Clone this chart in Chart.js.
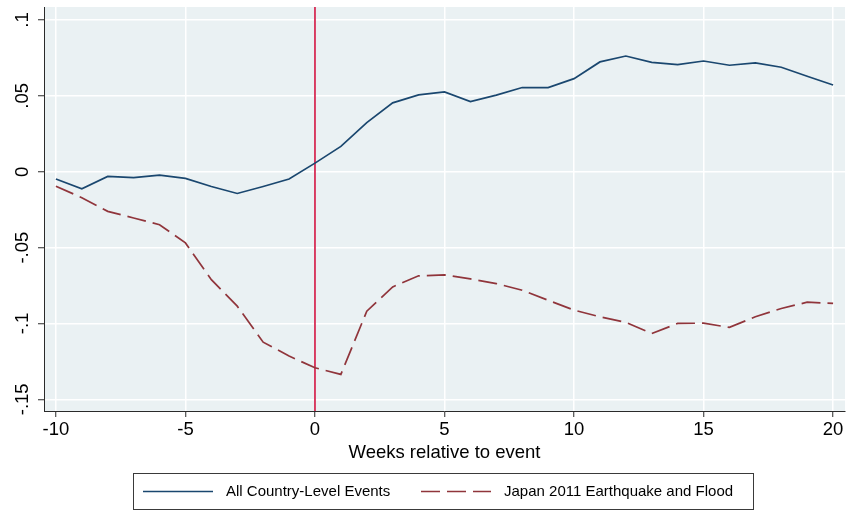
<!DOCTYPE html>
<html>
<head>
<meta charset="utf-8">
<script src="https://cdn.jsdelivr.net/npm/chart.js@4/dist/chart.umd.min.js"></script>
<style>
  html, body { margin: 0; padding: 0; background: #ffffff; }
  #wrap { width: 846px; height: 511px; position: relative; }
</style>
</head>
<body>
<div id="wrap"><canvas id="c" width="846" height="511"></canvas></div>
<script>
// Weeks relative to the event
const weeks = [-10, -9, -8, -7, -6, -5, -4, -3, -2, -1, 0, 1, 2, 3, 4, 5, 6, 7, 8, 9, 10,
               11, 12, 13, 14, 15, 16, 17, 18, 19, 20];

// Average effect across all country-level events
const allEvents = [-0.0048, -0.0112, -0.0031, -0.0039, -0.0022, -0.0044, -0.0097, -0.0143, -0.0097, -0.0048,
                   0.0057, 0.0167, 0.0324, 0.0454, 0.0507, 0.0526, 0.0463, 0.0505, 0.0555, 0.0555,
                   0.0614, 0.0724, 0.0763, 0.0721, 0.0706, 0.0730, 0.0702, 0.0717, 0.0689, 0.0630, 0.0572];

// Japan 2011 earthquake and flood
const japan2011 = [-0.0095, -0.0171, -0.0261, -0.0305, -0.0349, -0.0469, -0.0711, -0.0886, -0.1123, -0.1215,
                   -0.1292, -0.1336, -0.0919, -0.0759, -0.0686, -0.0680, -0.0706, -0.0737, -0.0781, -0.0847,
                   -0.0912, -0.0956, -0.0993, -0.1066, -0.1000, -0.0998, -0.1026, -0.0956, -0.0901, -0.0860, -0.0868];

const seriesNames = ["All Country-Level Events", "Japan 2011 Earthquake and Flood"];

// Axis ticks
const xTickValues = [-10, -5, 0, 5, 10, 15, 20];
const yTickValues = [-0.15, -0.1, -0.05, 0, 0.05, 0.1];
const yTickLabels = ["-.15", "-.1", "-.05", "0", ".05", ".1"];
const xTitle = "Weeks relative to event";
const eventWeek = 0;

const FONT = "'Liberation Sans', Arial, Helvetica, sans-serif";
const AXIS_FONT_SIZE = 18.5;
const LEGEND_FONT_SIZE = 15;
const PLOT_BG = '#EAF1F3';
const AXIS_COLOR = '#2a2a2a';
const BLUE = '#1A476F';
const MAROON = '#90353B';
const EVENT_RED = '#D0123F';
const DASH = [19, 7];

function toPoints(xs, ys) { return xs.map((x, i) => ({ x: x, y: ys[i] })); }

// Plot region background
const plotBackground = {
  id: 'plotBackground',
  beforeDraw(chart) {
    const { ctx, chartArea: a } = chart;
    ctx.save();
    ctx.fillStyle = PLOT_BG;
    ctx.fillRect(a.left, a.top, a.right - a.left, a.bottom - a.top);
    ctx.restore();
  }
};

// Vertical reference line at the event week
const eventLine = {
  id: 'eventLine',
  beforeDatasetsDraw(chart) {
    const { ctx, chartArea: a, scales } = chart;
    const px = scales.x.getPixelForValue(eventWeek);
    ctx.save();
    ctx.strokeStyle = EVENT_RED;
    ctx.lineWidth = 1.6;
    ctx.beginPath();
    ctx.moveTo(px, a.top);
    ctx.lineTo(px, a.bottom);
    ctx.stroke();
    ctx.restore();
  }
};

// Y tick labels, rotated to read upward
const yLabels = {
  id: 'yLabels',
  afterDraw(chart) {
    const { ctx, scales } = chart;
    const ys = scales.y;
    ctx.save();
    ctx.fillStyle = '#000';
    ctx.font = AXIS_FONT_SIZE + 'px ' + FONT;
    ctx.textAlign = 'center';
    ctx.textBaseline = 'alphabetic';
    yTickValues.forEach((v, i) => {
      const py = ys.getPixelForValue(v);
      ctx.save();
      ctx.translate(ys.right - 16, py);
      ctx.rotate(-Math.PI / 2);
      ctx.fillText(yTickLabels[i], 0, 0);
      ctx.restore();
    });
    ctx.restore();
  }
};

// Boxed legend under the axis title
const boxedLegend = {
  id: 'boxedLegend',
  afterDraw(chart) {
    const { ctx } = chart;
    const top = 473.5, bottom = 509.5, left = 133.5, right = 753.5;
    ctx.save();
    ctx.strokeStyle = '#3a3a3a';
    ctx.lineWidth = 1;
    ctx.strokeRect(left, top, right - left, bottom - top);
    const midY = (top + bottom) / 2;
    const items = [
      { x: 143, ds: chart.data.datasets[0] },
      { x: 421, ds: chart.data.datasets[1] }
    ];
    ctx.font = LEGEND_FONT_SIZE + 'px ' + FONT;
    ctx.textBaseline = 'middle';
    ctx.fillStyle = '#000';
    items.forEach(it => {
      ctx.save();
      ctx.strokeStyle = it.ds.borderColor;
      ctx.lineWidth = 1.6;
      ctx.setLineDash(it.ds.borderDash || []);
      ctx.beginPath();
      ctx.moveTo(it.x, midY);
      ctx.lineTo(it.x + 70, midY);
      ctx.stroke();
      ctx.restore();
      ctx.fillText(it.ds.label, it.x + 83, midY + 0.5);
    });
    ctx.restore();
  }
};

new Chart(document.getElementById('c'), {
  type: 'line',
  data: {
    datasets: [
      {
        label: seriesNames[0],
        data: toPoints(weeks, allEvents),
        borderColor: BLUE,
        borderWidth: 1.7,
        pointRadius: 0,
        tension: 0,
        fill: false
      },
      {
        label: seriesNames[1],
        data: toPoints(weeks, japan2011),
        borderColor: MAROON,
        borderWidth: 1.7,
        borderDash: DASH,
        pointRadius: 0,
        tension: 0,
        fill: false
      }
    ]
  },
  options: {
    responsive: false,
    animation: false,
    devicePixelRatio: 1,
    layout: { padding: { top: 7, right: 1, bottom: 38, left: 0 } },
    plugins: {
      legend: { display: false },
      tooltip: { enabled: false },
      title: { display: false }
    },
    scales: {
      x: {
        type: 'linear',
        min: -10.46,
        max: 20.46,
        afterBuildTicks(scale) { scale.ticks = xTickValues.map(v => ({ value: v })); },
        afterFit(scale) { scale.height = 62; },
        ticks: {
          color: '#000',
          font: { family: FONT, size: AXIS_FONT_SIZE },
          padding: 2,
          maxRotation: 0,
          minRotation: 0,
          callback: v => String(v)
        },
        grid: {
          color: '#ffffff',
          lineWidth: 1.5,
          tickColor: AXIS_COLOR,
          tickLength: 6,
          tickWidth: 1
        },
        border: { color: AXIS_COLOR, width: 1 },
        title: {
          display: true,
          text: xTitle,
          color: '#000',
          font: { family: FONT, size: AXIS_FONT_SIZE },
          padding: { top: 0, bottom: 9 }
        }
      },
      y: {
        type: 'linear',
        min: -0.1577,
        max: 0.1086,
        afterBuildTicks(scale) { scale.ticks = yTickValues.map(v => ({ value: v })); },
        afterFit(scale) { scale.width = 44; },
        ticks: { display: false },
        grid: {
          color: '#ffffff',
          lineWidth: 1.5,
          tickColor: AXIS_COLOR,
          tickLength: 6,
          tickWidth: 1
        },
        border: { color: AXIS_COLOR, width: 1 }
      }
    }
  },
  plugins: [plotBackground, eventLine, yLabels, boxedLegend]
});
</script>
</body>
</html>
